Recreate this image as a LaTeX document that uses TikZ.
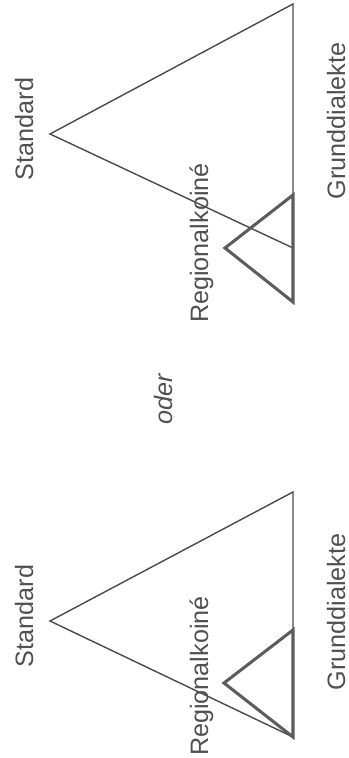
\documentclass[tikz,border=0pt]{standalone}
\usepackage{fontspec}
\setmainfont{Liberation Sans}
\usepackage{tikz}
\usetikzlibrary{positioning}
\definecolor{inkgray}{HTML}{4A4A4A}
\definecolor{txtgray}{HTML}{505050}
\tikzset{
  %% labels, set upright in the page turned by 90 degrees
  lvlLabel/.style={rotate=90, anchor=base, inner sep=0pt, text=txtgray,
    font=\fontsize{21.5}{24}\selectfont},
  orLabel/.style={lvlLabel, font=\fontsize{21.5}{24}\selectfont\itshape},
  %% triangle strokes
  thinEdge/.style={draw=inkgray, line width=1.2pt, line join=miter},
  thickEdge/.style={draw=inkgray!90, line width=2.6pt, line join=miter},
}
\begin{document}
\begin{tikzpicture}[x=0.03cm, y=0.03cm]
\useasboundingbox (0,0) rectangle (349,758);

%% upper figure
\coordinate (stdTopA) at (50,624);
\coordinate (stdTopN) at (293,754);
\coordinate (stdTopS) at (293,510);
\coordinate (regTopA) at (225,510);
\coordinate (regTopN) at (293,563);
\coordinate (regTopS) at (293,456);

\draw[thinEdge] (stdTopN) -- (stdTopA) -- (stdTopS) -- cycle;
\draw[thickEdge] (regTopN) -- (regTopA) -- (regTopS) -- cycle;

\node[lvlLabel] (lblStdTop)  at (33,629)  {Standard};
\node[lvlLabel] (lblRegTop)  at (208,515) {Regionalkoiné};
\node[lvlLabel] (lblGrdTop)  at (345,637) {Grunddialekte};

%% middle
\node[orLabel] (lblOder) at (172,359) {oder};

%% lower figure
\coordinate (stdBotA) at (50,137);
\coordinate (stdBotN) at (293,266);
\coordinate (stdBotS) at (293,21);
\coordinate (regBotA) at (224,75);
\coordinate (regBotN) at (293,128);

\draw[thinEdge] (stdBotN) -- (stdBotA) -- (stdBotS) -- cycle;
\draw[thickEdge] (regBotN) -- (regBotA) -- (stdBotS) -- cycle;

\node[lvlLabel] (lblStdBot)  at (33,142)  {Standard};
\node[lvlLabel] (lblRegBot)  at (208,82)  {Regionalkoiné};
\node[lvlLabel] (lblGrdBot)  at (345,146) {Grunddialekte};

\end{tikzpicture}
\end{document}
